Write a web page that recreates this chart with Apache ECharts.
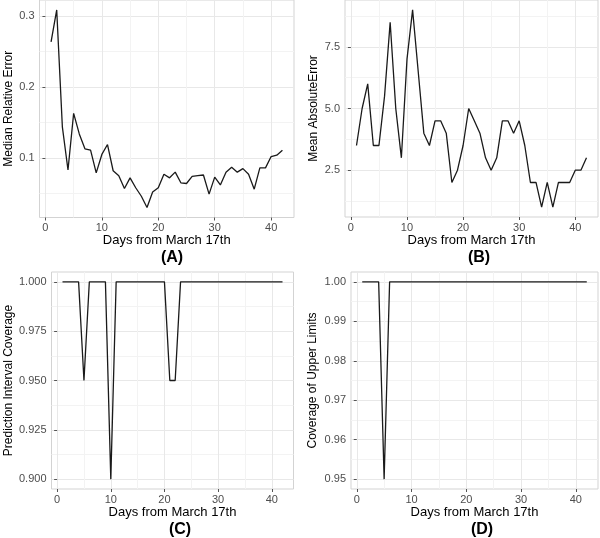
<!DOCTYPE html>
<html>
<head>
<meta charset="utf-8">
<script src="https://cdn.jsdelivr.net/npm/echarts@6/dist/echarts.min.js"></script>
<style>
html,body{margin:0;padding:0;background:#fff;}
#chart{width:600px;height:538px;}
</style>
</head>
<body>
<div id="chart"></div>
<script>
// ---- data ----
const days = [1,2,3,4,5,6,7,8,9,10,11,12,13,14,15,16,17,18,19,20,21,22,23,24,25,26,27,28,29,30,31,32,33,34,35,36,37,38,39,40,41,42];
const medianRelErr = [0.264,0.309,0.144,0.083,0.163,0.134,0.113,0.111,0.079,0.105,0.119,0.082,0.075,0.057,0.072,0.058,0.046,0.030,0.052,0.058,0.077,0.072,0.080,0.065,0.064,0.074,0.075,0.076,0.049,0.073,0.062,0.080,0.087,0.080,0.085,0.077,0.056,0.086,0.086,0.102,0.104,0.111];
const meanAbsErr = [3.5,5.0,6.0,3.5,3.5,5.5,8.5,5.0,3.0,7.0,9.0,6.5,4.0,3.5,4.5,4.5,4.0,2.0,2.5,3.5,5.0,4.5,4.0,3.0,2.5,3.0,4.5,4.5,4.0,4.5,3.5,2.0,2.0,1.0,2.0,1.0,2.0,2.0,2.0,2.5,2.5,3.0];
const predIntCoverage = [1,1,1,1,0.95,1,1,1,1,0.90,1,1,1,1,1,1,1,1,1,1,0.95,0.95,1,1,1,1,1,1,1,1,1,1,1,1,1,1,1,1,1,1,1,1];
const upperCoverage = [1,1,1,1,0.95,1,1,1,1,1,1,1,1,1,1,1,1,1,1,1,1,1,1,1,1,1,1,1,1,1,1,1,1,1,1,1,1,1,1,1,1,1];

const xTicks = [0,10,20,30,40];
const xMinor = [5,15,25,35];
const yTicksA = [0.1,0.2,0.3];     const yMinorA = [0.05,0.15,0.25];
const yTicksB = [2.5,5.0,7.5];     const yMinorB = [1.25,3.75,6.25,8.75];
const yTicksC = [0.900,0.925,0.950,0.975,1.000]; const yMinorC = [0.9125,0.9375,0.9625,0.9875];
const yTicksD = [0.95,0.96,0.97,0.98,0.99,1.00]; const yMinorD = [0.955,0.965,0.975,0.985,0.995];

const xTitle = 'Days from March 17th';
const panelLabels = ['(A)','(B)','(C)','(D)'];
const yTitles = ['Median Relative Error','Mean AbsoluteError','Prediction Interval Coverage','Coverage of Upper Limits'];

// ---- layout/style ----
const FONT = 'Liberation Sans, Arial, Helvetica, sans-serif';
const panels = [
  {grid:{left:39.5, top:0, width:254.5, height:217.5}, y:yTicksA, ym:yMinorA, ymin:0.016, ymax:0.323, dec:1, data:medianRelErr, gap:25, lab:{x:172, y:258}},
  {grid:{left:345, top:0, width:253, height:217}, y:yTicksB, ym:yMinorB, ymin:0.6, ymax:9.4, dec:1, data:meanAbsErr, gap:25, lab:{x:479, y:258}},
  {grid:{left:51.5, top:272, width:242, height:217}, y:yTicksC, ym:yMinorC, ymin:0.895, ymax:1.005, dec:3, data:predIntCoverage, gap:36, lab:{x:180, y:530}},
  {grid:{left:351, top:272, width:247, height:217}, y:yTicksD, ym:yMinorD, ymin:0.9475, ymax:1.0025, dec:2, data:upperCoverage, gap:32, lab:{x:482, y:530}}
];

const grids = [], xAxes = [], yAxes = [], series = [], graphics = [];
panels.forEach((p, i) => {
  grids.push(Object.assign({show:true, borderColor:'#d3d3d3', borderWidth:1, backgroundColor:'transparent', containLabel:false}, p.grid));
  // major x axis
  xAxes.push({
    type:'value', gridIndex:i, min:-1.05, max:44.05, position:'bottom',
    name:xTitle, nameLocation:'middle', nameGap:15,
    nameTextStyle:{fontFamily:FONT, fontSize:13, color:'#000'},
    axisLine:{show:false},
    axisTick:{show:true, length:3, lineStyle:{color:'#555', width:1}, customValues:xTicks},
    axisLabel:{customValues:xTicks, margin:5, fontFamily:FONT, fontSize:11, color:'#4d4d4d'},
    splitLine:{show:true, lineStyle:{color:'#e8e8e8', width:1}}
  });
  // minor x axis (grid lines only)
  xAxes.push({
    type:'value', gridIndex:i, min:-1.05, max:44.05, position:'top',
    axisLine:{show:false}, axisTick:{show:false, customValues:xMinor}, axisLabel:{show:false, customValues:xMinor},
    splitLine:{show:true, lineStyle:{color:'#f3f3f3', width:1}}
  });
  yAxes.push({
    type:'value', gridIndex:i, min:p.ymin, max:p.ymax, position:'left',
    name:yTitles[i], nameLocation:'middle', nameGap:p.gap,
    nameTextStyle:{fontFamily:FONT, fontSize:12, color:'#000'},
    axisLine:{show:false},
    axisTick:{show:true, length:3, lineStyle:{color:'#555', width:1}, customValues:p.y},
    axisLabel:{customValues:p.y, margin:5, fontFamily:FONT, fontSize:11, color:'#4d4d4d',
      formatter:(v)=>Number(v).toFixed(p.dec)},
    splitLine:{show:true, lineStyle:{color:'#e8e8e8', width:1}}
  });
  yAxes.push({
    type:'value', gridIndex:i, min:p.ymin, max:p.ymax, position:'right',
    axisLine:{show:false}, axisTick:{show:false, customValues:p.ym}, axisLabel:{show:false, customValues:p.ym},
    splitLine:{show:true, lineStyle:{color:'#f3f3f3', width:1}}
  });
  series.push({
    type:'line', xAxisIndex:2*i, yAxisIndex:2*i,
    data: days.map((d, k) => [d, p.data[k]]),
    showSymbol:false, symbol:'none', animation:false,
    lineStyle:{color:'#1a1a1a', width:1.3}, z:5
  });
  graphics.push({type:'text', x:p.lab.x, y:p.lab.y,
    style:{text:panelLabels[i], font:'bold 16px ' + FONT, fill:'#000', textAlign:'center', textVerticalAlign:'middle'}});
});

const chart = echarts.init(document.getElementById('chart'), null, {renderer:'canvas'});
chart.setOption({
  backgroundColor:'#fff',
  animation:false,
  grid:grids, xAxis:xAxes, yAxis:yAxes, series:series, graphic:graphics
});
</script>
</body>
</html>
